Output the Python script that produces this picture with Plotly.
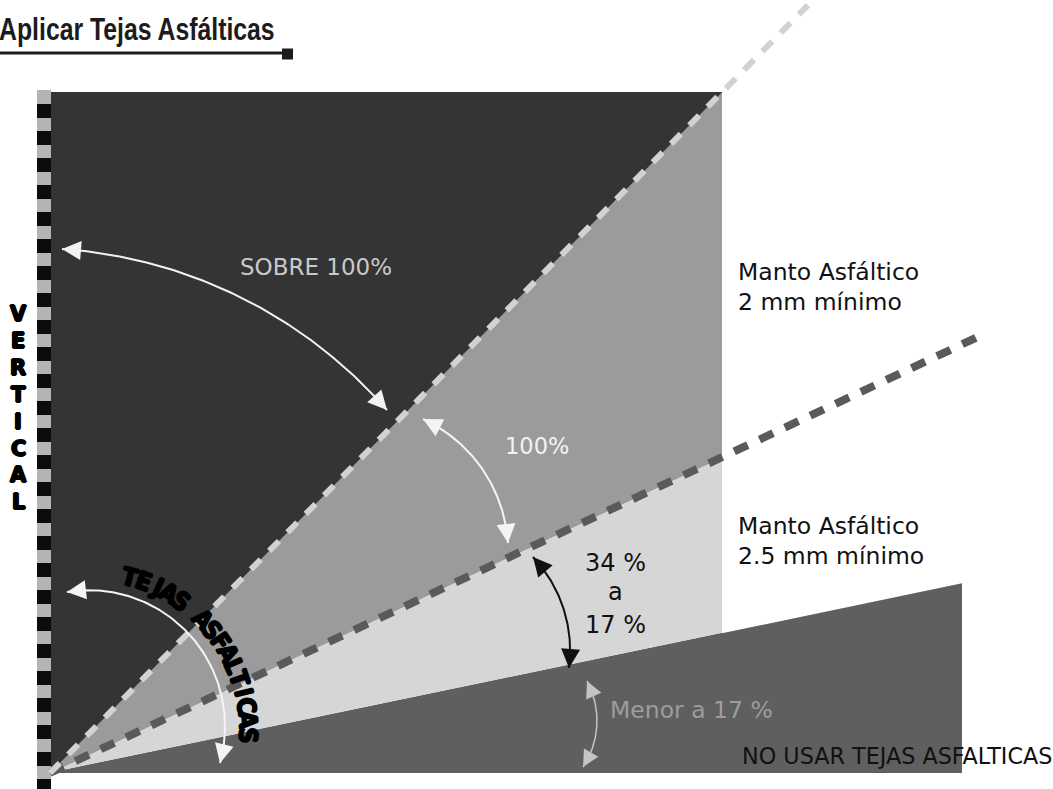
import numpy as np
import plotly.graph_objects as go

# ---------------- data ----------------
title_text = "Aplicar Tejas Asfálticas"
boundary_slopes = [1.013, 0.470, 0.208]          # drawn rise/run of the 100 %, 34 %, 17 % lines
zone_labels = ["SOBRE 100%", "100%", "Menor a 17 %"]
range_labels = ["34 %", "a", "17 %"]
material_2mm = ["Manto Asfáltico", "2 mm mínimo"]
material_25mm = ["Manto Asfáltico", "2.5 mm mínimo"]
axis_word = "VERTICAL"
arc_word = "TEJAS ASFALTICAS"
no_use_label = "NO USAR TEJAS ASFALTICAS"

# ---------------- geometry (pixel readings -> drawing units) ----------------
OX, OY = 50, 773            # pixel of the origin (roof pitch vertex)
W, H = 1053, 789


def P(px, py):
    return (px - OX, OY - py)


box_run = 672      # dark box / 100% line end
box_rise = 681
low_run = 912      # 17 % zone width
ext_100 = 758      # dashed 100 % line length (run)
ext_34 = 937       # dashed 34 % line length (run)

s100, s34, s17 = boundary_slopes

fig = go.Figure()


def poly(xs, ys, color):
    fig.add_trace(go.Scatter(x=xs, y=ys, fill="toself", fillcolor=color, mode="lines",
                             line=dict(width=0, color=color), hoverinfo="skip", showlegend=False))


# dark box (above 100 %)
poly([0, 0, box_run, box_run, 0], [0, box_rise, box_rise, 0, 0], "#343434")
# 100 % zone
poly([0, box_run, box_run, 0], [0, s100 * box_run, s34 * box_run, 0], "#9b9b9b")
# 34-17 % zone
poly([0, box_run, box_run, 0], [0, s34 * box_run, s17 * box_run, 0], "#d6d6d6")
# below 17 %
poly([0, low_run, low_run, 0], [0, s17 * low_run, 0, 0], "#5f5f5f")

# vertical reference strip
sx = P(44, 0)[0]
fig.add_trace(go.Scatter(x=[sx, sx], y=[P(0, 90)[1], P(0, 789)[1]], mode="lines",
                         line=dict(color="#b4b4b4", width=14), hoverinfo="skip", showlegend=False))
fig.add_trace(go.Scatter(x=[sx, sx], y=[P(0, 104)[1], P(0, 789)[1]], mode="lines",
                         line=dict(color="#0c0c0c", width=14, dash="14px,13px"),
                         hoverinfo="skip", showlegend=False))

# dashed slope lines
fig.add_trace(go.Scatter(x=[0, ext_34], y=[0, s34 * ext_34], mode="lines",
                         line=dict(color="#5a5a5a", width=8, dash="15px,13px"),
                         hoverinfo="skip", showlegend=False))
fig.add_trace(go.Scatter(x=[0, ext_100], y=[0, s100 * ext_100], mode="lines",
                         line=dict(color="#d2d2d2", width=6, dash="14px,12px"),
                         hoverinfo="skip", showlegend=False))


# ---------------- curved double arrows ----------------
def circle3(p1, p2, p3):
    ax, ay = p1
    bx, by = p2
    cx, cy = p3
    d = 2 * (ax * (by - cy) + bx * (cy - ay) + cx * (ay - by))
    ux = ((ax**2 + ay**2) * (by - cy) + (bx**2 + by**2) * (cy - ay) + (cx**2 + cy**2) * (ay - by)) / d
    uy = ((ax**2 + ay**2) * (cx - bx) + (bx**2 + by**2) * (ax - cx) + (cx**2 + cy**2) * (bx - ax)) / d
    return ux, uy, np.hypot(ax - ux, ay - uy)


annotations = []


def arc_arrow(p1, p2, p3, color, width, head=1.9):
    p1, p2, p3 = P(*p1), P(*p2), P(*p3)
    ux, uy, r = circle3(p1, p2, p3)
    a1 = np.arctan2(p1[1] - uy, p1[0] - ux)
    a2 = np.arctan2(p2[1] - uy, p2[0] - ux)
    a3 = np.arctan2(p3[1] - uy, p3[0] - ux)
    tw = 2 * np.pi
    d12 = (a2 - a1) % tw
    d13 = (a3 - a1) % tw
    if d12 < d13:
        end = a1 + d13
    else:
        end = a1 - (tw - d13)
    t = np.linspace(a1, end, 120)
    fig.add_trace(go.Scatter(x=ux + r * np.cos(t), y=uy + r * np.sin(t), mode="lines",
                             line=dict(color=color, width=width), hoverinfo="skip", showlegend=False))
    dt = np.sign(end - a1) * 12.0 / r
    for tip, tail in ((a1, a1 + dt), (end, end - dt)):
        annotations.append(dict(x=ux + r * np.cos(tip), y=uy + r * np.sin(tip),
                                ax=ux + r * np.cos(tail), ay=uy + r * np.sin(tail),
                                xref="x", yref="y", axref="x", ayref="y", text="",
                                showarrow=True, arrowhead=2, arrowsize=head, arrowwidth=width,
                                arrowcolor=color, standoff=0))


arc_arrow((62, 249), (240, 297), (387, 410), "#f2f2f2", 2)
arc_arrow((423, 419), (483, 470), (508, 543), "#f4f4f4", 2)
arc_arrow((533, 557), (563, 607), (569, 668), "#111111", 2)
arc_arrow((587, 681), (597, 720), (583, 767), "#c4c4c4", 1.5, head=2.2)
arc_arrow((67, 592), (187, 632), (220, 763), "#f4f4f4", 2)

# ---------------- text ----------------
BASE = "DejaVu Sans"
HEAVY = "1px 0 0 #000, -1px 0 0 #000, 0 1px 0 #000, 0 -1px 0 #000"


def label(text, px, py, size=22, color="#111111", xanchor="center", family=BASE, angle=0,
          shadow=None, ref="x"):
    x, y = P(px, py)
    font = dict(family=family, size=size, color=color)
    if shadow:
        font["shadow"] = shadow
    if ref == "paper":
        a = dict(x=px / W, y=1 - py / H, xref="paper", yref="paper")
    else:
        a = dict(x=x, y=y, xref="x", yref="y")
    a.update(text=text, showarrow=False, xanchor=xanchor, yanchor="middle", textangle=angle,
             font=font)
    annotations.append(a)


label(zone_labels[0], 316, 267, size=23, color="#c9c9c9")
label(zone_labels[1], 537, 446, size=22.5, color="#f3f3f3")
label(zone_labels[2], 691, 710, size=23.5, color="#9d9d9d")
label(range_labels[0], 615, 563, size=24)
label(range_labels[1], 615, 592, size=24)
label(range_labels[2], 615, 625, size=24)
label(material_2mm[0], 736, 272, size=23.5, xanchor="left")
label(material_2mm[1], 736, 302, size=23.5, xanchor="left")
label(material_25mm[0], 736, 526, size=23.5, xanchor="left")
label(material_25mm[1], 736, 556, size=23.5, xanchor="left")
label(no_use_label, 740, 756, size=22.3, xanchor="left")

# VERTICAL stacked letters
for i, ch in enumerate(axis_word):
    label("<b>%s</b>" % ch, 18, 314 + i * 26.9, size=21, color="#000000", shadow=HEAVY)

# TEJAS ASFALTICAS along an arc
cxp, cyp, rr = 89.7, 730.0, 158.0
ang0, ang1 = 75.2, -1.8
n = len(arc_word)
for i, ch in enumerate(arc_word):
    if ch == " ":
        continue
    th = np.radians(ang0 + (ang1 - ang0) * i / (n - 1))
    px = cxp + rr * np.cos(th)
    py = cyp - rr * np.sin(th)
    label("<b>%s</b>" % ch, px, py, size=25, color="#000000",
          family="DejaVu Sans Condensed", angle=90 - np.degrees(th), shadow=HEAVY)

# title with underline and square end
fig.add_trace(go.Scatter(x=[P(0, 53)[0], P(284, 53)[0]], y=[P(0, 53)[1], P(284, 53)[1]], mode="lines",
                         line=dict(color="#1c1c1c", width=3), hoverinfo="skip", showlegend=False))
fig.add_trace(go.Scatter(x=[P(287.5, 54)[0]], y=[P(287.5, 54)[1]], mode="markers",
                         marker=dict(symbol="square", size=11, color="#1c1c1c"),
                         hoverinfo="skip", showlegend=False))
label("<b>%s</b>" % title_text, -3, 30, size=31, color="#1c1c1c", xanchor="left",
      family="Liberation Sans, Arial, sans-serif", ref="paper")

fig.update_layout(
    width=W, height=H, margin=dict(l=0, r=0, t=0, b=0),
    paper_bgcolor="white", plot_bgcolor="white",
    xaxis=dict(range=[-OX, W - OX], visible=False, fixedrange=True),
    yaxis=dict(range=[OY - H, OY], visible=False, fixedrange=True),
    annotations=annotations, showlegend=False,
)

post = """
document.body.style.margin='0px';
document.body.style.overflow='hidden';
function squeezeTitle(){
  document.querySelectorAll('text.annotation-text').forEach(function(t){
    if (t.textContent.indexOf('Aplicar') === 0) {
      t.style.transformBox = 'fill-box';
      t.style.transformOrigin = 'left center';
      t.style.transform = 'scaleX(0.80)';
    }
  });
}
squeezeTitle();
var gd = document.getElementById('{plot_id}');
if (gd && gd.on) { gd.on('plotly_afterplot', squeezeTitle); }
"""

fig.write_html("out.html", post_script=post, config={"displayModeBar": False})
